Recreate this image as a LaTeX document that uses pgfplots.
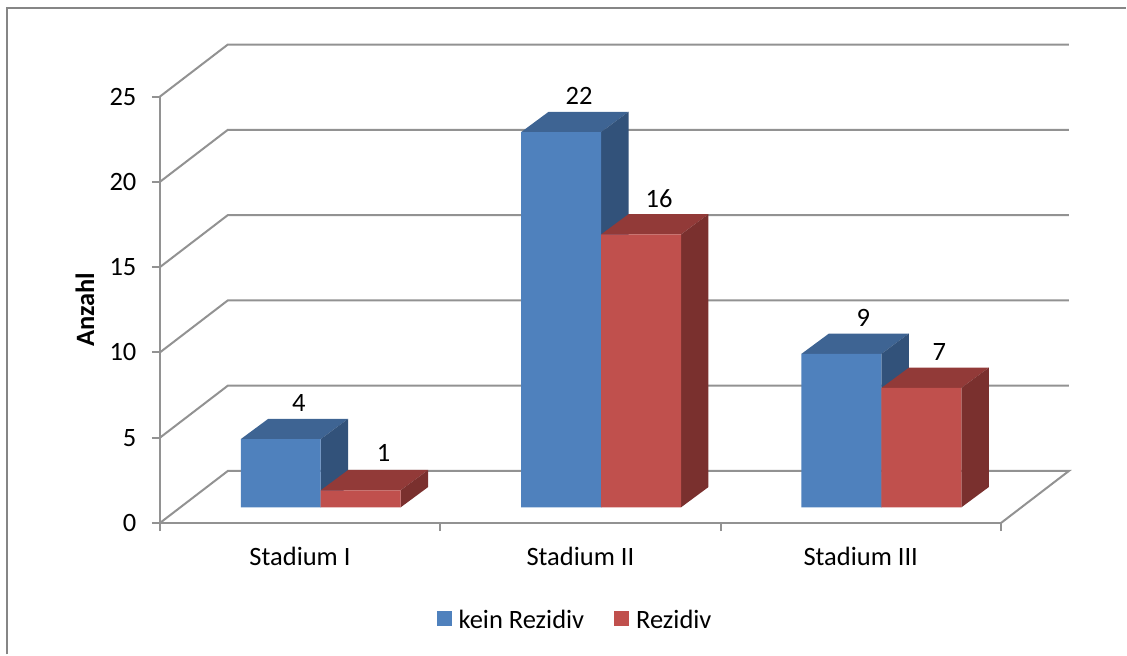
\documentclass[border=0pt]{standalone}
\usepackage{fontspec}
\setmainfont{Carlito}
\usepackage{pgfplots}
\pgfplotsset{compat=1.18}

\definecolor{framegray}{HTML}{868686}
\definecolor{wallgray}{HTML}{929292}
\definecolor{blueFront}{HTML}{4F81BD}
\definecolor{blueTop}{HTML}{3E6493}
\definecolor{blueSide}{HTML}{32527A}
\definecolor{redFront}{HTML}{C0504D}
\definecolor{redTop}{HTML}{923A38}
\definecolor{redSide}{HTML}{7A302E}

\newcommand{\chartfont}{\fontsize{26.5}{31}\selectfont}

% oblique depth of the bars, in data units
\newcommand{\bardx}{0.098}
\newcommand{\bardy}{1.191}
\newcommand{\barw}{0.2851}

\tikzset{barplace/.style={xshift=20.7pt,yshift=15.7pt}}

% top and side face of one bar: left edge, value, top colour, side colour
\newcommand{\boxfaces}[4]{%
  \pgfmathsetmacro{\xr}{#1+\barw}%
  \pgfmathsetmacro{\xrb}{#1+\barw+\bardx}%
  \pgfmathsetmacro{\xlb}{#1+\bardx}%
  \pgfmathsetmacro{\yb}{#2+\bardy}%
  \addplot[forget plot,barplace,fill=#3,draw=none] coordinates {(#1,#2) (\xr,#2) (\xrb,\yb) (\xlb,\yb)} --cycle;
  \addplot[forget plot,barplace,fill=#4,draw=none] coordinates {(\xr,0) (\xr,#2) (\xrb,\yb) (\xrb,\bardy)} --cycle;
}

% value labels sit above the top face of each bar
\pgfplotsset{valuelabels/.style={
  nodes near coords,
  nodes near coords style={font=\chartfont,text=black,anchor=center,xshift=#1,yshift=36pt},
}}

\begin{document}
\begin{tikzpicture}[x=1pt,y=1pt]
\path (0,0) rectangle (1127,655);
\draw[framegray,line width=2pt,line cap=butt] (7.5,0) -- (7.5,647) -- (1127,647);
\begin{axis}[
  at={(160pt,131.5pt)},anchor=south west,
  scale only axis,width=841.8pt,height=426.8pt,
  xmin=0,xmax=3,ymin=0,ymax=25,
  clip=false,
  axis lines=left,
  axis line style={-,wallgray,line width=2pt},
  tick align=outside,
  ytick={0,5,10,15,20,25},
  xtick={0.5,1.5,2.5},
  xticklabels={Stadium I,Stadium II,Stadium III},
  minor xtick={0,1,2,3},
  major tick length=8pt,
  minor tick length=8pt,
  major x tick style={draw=none},
  minor x tick style={wallgray,line width=2pt},
  major y tick style={wallgray,line width=2pt},
  tick label style={font=\chartfont,text=black},
  yticklabel shift=12pt,
  xticklabel shift=13pt,
  /pgf/number format/assume math mode=true,
  ylabel={\bfseries Anzahl},
  ylabel style={font=\chartfont,at={(axis description cs:-0.089,0.5)},anchor=center},
  legend columns=2,
  legend style={at={(axis description cs:0.4936,-0.2265)},anchor=center,draw=none,fill=none,font=\chartfont,inner sep=0pt,
    /tikz/every even column/.append style={column sep=28pt},
    /tikz/every odd column/.append style={column sep=5pt}},
  legend image code/.code={\fill[#1] (0pt,-22.5pt) rectangle (15pt,-7.5pt);},
]
% rear wall and floor
\addplot[forget plot,wallgray,line width=2pt] coordinates {(3,0) (3.2423,3.052) (0.2423,3.052) (0,0)};
\addplot[forget plot,wallgray,line width=2pt] coordinates {(0,5) (0.2423,8.052) (3.2423,8.052)};
\addplot[forget plot,wallgray,line width=2pt] coordinates {(0,10) (0.2423,13.052) (3.2423,13.052)};
\addplot[forget plot,wallgray,line width=2pt] coordinates {(0,15) (0.2423,18.052) (3.2423,18.052)};
\addplot[forget plot,wallgray,line width=2pt] coordinates {(0,20) (0.2423,23.052) (3.2423,23.052)};
\addplot[forget plot,wallgray,line width=2pt] coordinates {(0,25) (0.2423,28.052) (3.2423,28.052)};

% kein Rezidiv
\boxfaces{0.2149}{4}{blueTop}{blueSide}
\boxfaces{1.2149}{22}{blueTop}{blueSide}
\boxfaces{2.2149}{9}{blueTop}{blueSide}
\addplot[ybar,bar width=80pt,bar shift=-40pt,barplace,fill=blueFront,draw=none,valuelabels=-22pt,
    coordinate style/.condition={y==9}{xshift=4pt}]
  coordinates {(0.5,4) (1.5,22) (2.5,9)};
\addlegendentry{kein Rezidiv}

% Rezidiv
\boxfaces{0.5}{1}{redTop}{redSide}
\boxfaces{1.5}{16}{redTop}{redSide}
\boxfaces{2.5}{7}{redTop}{redSide}
\addplot[ybar,bar width=80pt,bar shift=40pt,barplace,fill=redFront,draw=none,valuelabels=58pt,
    coordinate style/.condition={y==1}{xshift=5pt,yshift=1.5pt}]
  coordinates {(0.5,1) (1.5,16) (2.5,7)};
\addlegendentry{Rezidiv}
\end{axis}
\end{tikzpicture}
\end{document}
